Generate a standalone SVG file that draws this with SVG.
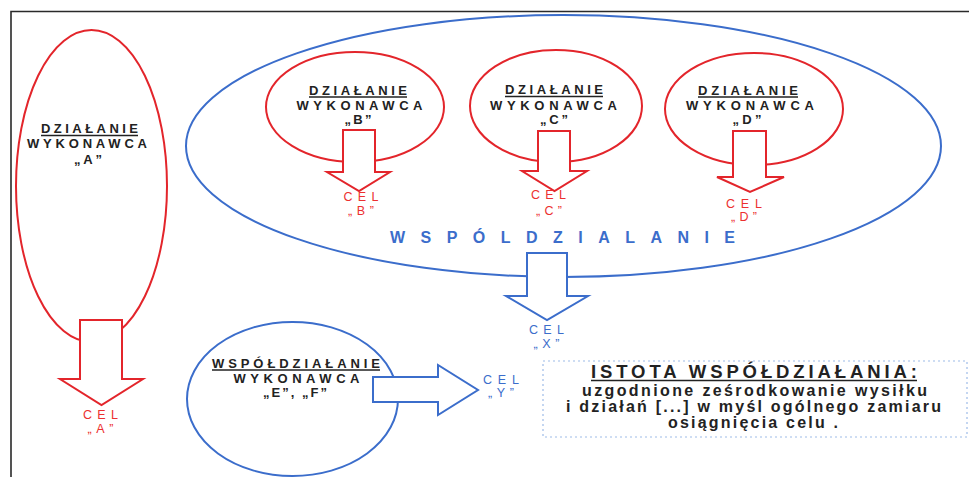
<svg xmlns="http://www.w3.org/2000/svg" width="969" height="477" viewBox="0 0 969 477">
<style>
.frame{fill:none;stroke:#2a2a2a;stroke-width:1.6}
.red{fill:none;stroke:#e3252b;stroke-width:2}
.blue{fill:none;stroke:#3b6dcb;stroke-width:2}
.rarrow{fill:#ffffff;stroke:#e3252b;stroke-width:2;stroke-linejoin:miter}
.barrow{fill:#ffffff;stroke:#3b6dcb;stroke-width:2;stroke-linejoin:miter}
.lbl{font-family:"Liberation Sans",Arial,sans-serif;font-weight:bold;font-size:13px;fill:#222222;text-anchor:middle}
.ul{stroke:#222222;stroke-width:1.3}
.celr{font-family:"Liberation Sans",Arial,sans-serif;font-size:12.5px;fill:#ec3030;text-anchor:middle}
.celb{font-family:"Liberation Sans",Arial,sans-serif;font-size:12.5px;fill:#3b6dcb;text-anchor:middle}
.big{font-family:"Liberation Sans",Arial,sans-serif;font-size:16px;font-weight:bold;fill:#3b6dcb}
.box{fill:none;stroke:#9dbbe8;stroke-width:1.2;stroke-dasharray:2 3}
.head{font-family:"Liberation Sans",Arial,sans-serif;font-weight:bold;font-size:18.5px;fill:#222222;text-anchor:middle}
.body{font-family:"Liberation Sans",Arial,sans-serif;font-weight:bold;font-size:16px;fill:#222222;text-anchor:middle}
</style>
<rect x="0" y="0" width="969" height="477" fill="#ffffff"/>
<path class="frame" d="M11,477 V11.5 H969"/>

<g id="wspoldzialanie-ellipse">
<ellipse class="blue" cx="563.5" cy="146" rx="377.5" ry="131"/>
<text class="big" x="390" y="243" textLength="345" lengthAdjust="spacing">WSPÓLDZIALANIE</text>
</g>

<g id="node-a">
<ellipse class="red" cx="91.5" cy="186" rx="75.5" ry="156"/>
<text class="lbl" x="89.5" y="133" textLength="97" lengthAdjust="spacing">DZIAŁANIE</text>
<line class="ul" x1="41" y1="135.5" x2="138" y2="135.5"/>
<text class="lbl" x="87" y="148" textLength="120" lengthAdjust="spacing">WYKONAWCA</text>
<text class="lbl" x="88" y="164" textLength="28" lengthAdjust="spacing">„A”</text>
</g>

<g id="node-b">
<ellipse class="red" cx="355" cy="107" rx="89" ry="55"/>
<text class="lbl" x="358" y="94.5" textLength="98" lengthAdjust="spacing">DZIAŁANIE</text>
<line class="ul" x1="309" y1="97" x2="407" y2="97"/>
<text class="lbl" x="359.5" y="109.5" textLength="126" lengthAdjust="spacing">WYKONAWCA</text>
<text class="lbl" x="358" y="124" textLength="27" lengthAdjust="spacing">„B”</text>
</g>

<g id="node-c">
<ellipse class="red" cx="556" cy="106" rx="86" ry="56"/>
<text class="lbl" x="554" y="94" textLength="98" lengthAdjust="spacing">DZIAŁANIE</text>
<line class="ul" x1="505" y1="96.5" x2="603" y2="96.5"/>
<text class="lbl" x="553.5" y="109.5" textLength="127" lengthAdjust="spacing">WYKONAWCA</text>
<text class="lbl" x="554" y="124" textLength="28" lengthAdjust="spacing">„C”</text>
</g>

<g id="node-d">
<ellipse class="red" cx="754" cy="109" rx="89" ry="56"/>
<text class="lbl" x="748" y="94.5" textLength="100" lengthAdjust="spacing">DZIAŁANIE</text>
<line class="ul" x1="698" y1="97" x2="798" y2="97"/>
<text class="lbl" x="750" y="109.5" textLength="128" lengthAdjust="spacing">WYKONAWCA</text>
<text class="lbl" x="747" y="124" textLength="29" lengthAdjust="spacing">„D”</text>
</g>

<g id="node-ef">
<ellipse class="blue" cx="292.5" cy="399" rx="105.5" ry="77"/>
<text class="lbl" x="296" y="367.5" textLength="168" lengthAdjust="spacing">WSPÓŁDZIAŁANIE</text>
<line class="ul" x1="212" y1="370" x2="380" y2="370"/>
<text class="lbl" x="296.5" y="383" textLength="126" lengthAdjust="spacing">WYKONAWCA</text>
<text class="lbl" x="295" y="397" textLength="64" lengthAdjust="spacing">„E”, „F”</text>
</g>

<g id="connectors">
<path class="rarrow" d="M80,320 H122 V379 H143 L101.5,405 L60,379 H80 Z"/>
<path class="rarrow" d="M343,130 H375 V172 H390 L359,191 L327,172 H343 Z"/>
<path class="rarrow" d="M538,131 H570 V171 H587 L554.5,191 L522,171 H538 Z"/>
<path class="rarrow" d="M733,131 H766 V177 H784 L750,192 L717,177 H733 Z"/>
<path class="barrow" d="M527,253 H567 V296 H588 L547,320 L506,296 H527 Z"/>
<path class="barrow" d="M373,377 H438 V365 L478,390 L438,415 V402 H373 Z"/>
</g>

<g id="cel-a">
<text class="celr" x="100.5" y="418.5" textLength="35" lengthAdjust="spacing">CEL</text>
<text class="celr" x="100.5" y="432.5" textLength="26" lengthAdjust="spacing">„A”</text>
</g>
<g id="cel-b">
<text class="celr" x="361" y="200.5" textLength="35" lengthAdjust="spacing">CEL</text>
<text class="celr" x="361" y="214.5" textLength="26" lengthAdjust="spacing">„B”</text>
</g>
<g id="cel-c">
<text class="celr" x="548.5" y="199" textLength="35" lengthAdjust="spacing">CEL</text>
<text class="celr" x="549" y="214.5" textLength="26" lengthAdjust="spacing">„C”</text>
</g>
<g id="cel-d">
<text class="celr" x="744" y="207.5" textLength="36" lengthAdjust="spacing">CEL</text>
<text class="celr" x="744" y="221" textLength="26" lengthAdjust="spacing">„D”</text>
</g>
<g id="cel-x">
<text class="celb" x="546.5" y="334" textLength="35" lengthAdjust="spacing">CEL</text>
<text class="celb" x="546.5" y="347.5" textLength="26" lengthAdjust="spacing">„X”</text>
</g>
<g id="cel-y">
<text class="celb" x="501" y="384" textLength="36" lengthAdjust="spacing">CEL</text>
<text class="celb" x="501" y="397" textLength="26" lengthAdjust="spacing">„Y”</text>
</g>

<g id="istota">
<rect class="box" x="543" y="361" width="424" height="76"/>
<text class="head" x="754" y="377.5" textLength="326" lengthAdjust="spacing">ISTOTA WSPÓŁDZIAŁANIA:</text>
<line class="ul" x1="591" y1="380.5" x2="917" y2="380.5" style="stroke-width:1.5"/>
<text class="body" x="754.5" y="395.5" textLength="345" lengthAdjust="spacing">uzgodnione ześrodkowanie wysiłku</text>
<text class="body" x="753.5" y="411.5" textLength="375" lengthAdjust="spacing">i działań [...] w myśl ogólnego zamiaru</text>
<text class="body" x="753" y="427.5" textLength="170" lengthAdjust="spacing">osiągnięcia celu .</text>
</g>
</svg>
